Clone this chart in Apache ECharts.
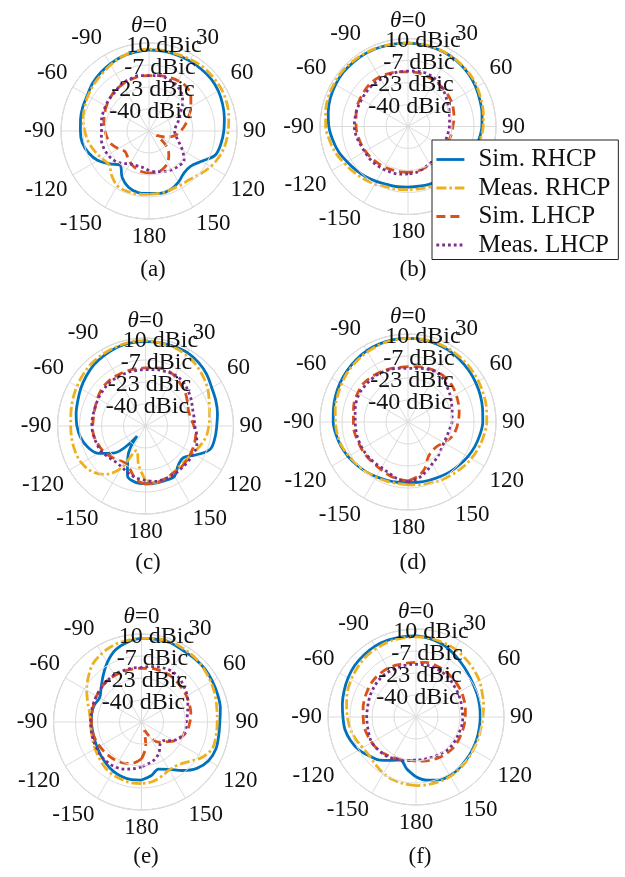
<!DOCTYPE html>
<html><head><meta charset="utf-8">
<script src="https://cdn.jsdelivr.net/npm/echarts@6/dist/echarts.min.js"></script>
<style>html,body{margin:0;padding:0;background:#fff}#c{width:625px;height:877px}</style>
</head><body><div id="c"></div>
<script>
// ---------- data ----------
const angles = [-180,-170,-160,-150,-140,-130,-120,-110,-100,
  -90,-80,-70,-60,-50,-40,-30,-20,-10,
  0,10,20,30,40,50,60,70,80,
  90,100,110,120,130,140,150,160,170,180];
const seriesNames = ['Sim. RHCP','Meas. RHCP','Sim. LHCP','Meas. LHCP'];
const panelLabels = ['(a)','(b)','(c)','(d)','(e)','(f)'];
const angleTickLabels = {0:'{it|θ}=0',30:'30',60:'60',90:'90',120:'120',150:'150',180:'180',210:'-150',240:'-120',270:'-90',300:'-60',330:'-90'};
const magMin = -170/3, magMax = 10.01, magStep = 50/3;

// (a)
const simRHCP_a = [-9.3,-9.3,-11.3,-16,-22.7,-18,-12,-8,-5.3, -4.7,-4,-3.3,-2.7,-0.7,0.7,2,3.3,4, 4.7,4.7,4.7,4.7,4.7,4.7,4,2.7,1.3, 0,-1.3,-3.3,-10.7,-15.3,-15.3,-12,-9.3,-8.7,-9.3];
const measRHCP_a = [-8.7,-8,-8,-8.7,-12.7,-17,-15.3,-12.7,-10, -8,-6,-4.7,-3.3,-2,-0.7,1.3,3.3,4.7, 5.3,5.3,5.3,6,6.7,6.7,6.7,6,4.7, 3.3,2,0,-2.7,-6,-8.7,-9.3,-9.3,-8.7,-8.7];
const simLHCP_a = [-24.7,-25.3,-26.7,-28.7,-31.3,-32.7,-30,-26.7,-24.7, -23.3,-22,-20.7,-19.3,-18,-16.7,-16,-15.3,-14.7, -14.7,-14,-13.3,-12.7,-12.7,-15.3,-20,-24.7,-28.7, -32.7,-36.7,-43.3,-50,-40,-33.3,-28.7,-26,-24.7,-24.7];
const measLHCP_a = [-26.7,-28.7,-28.7,-28,-24.7,-22,-20.7,-20,-20, -20.7,-20,-19.3,-18.7,-18,-17.3,-15.3,-14.7,-14, -14.7,-14,-14.7,-16,-18.7,-23.3,-29.3,-32.7,-36, -37.3,-36,-32.7,-27.3,-22,-22,-22.7,-24,-25.3,-26.7];
// (b)
const simRHCP_b = [-10.7,-10.3,-10,-8.7,-7,-5.3,-3.3,-0.7,1.3, 3.3,4.7,6,6.7,7.3,7.3,7.3,7,6.7, 6.5,6.3,6,5.7,5,4,2.7,1.3,0.3, -0.7,-2,-3.3,-5.3,-7,-8.3,-9.3,-10,-10.7,-10.7];
const measRHCP_b = [-8.7,-8.3,-8,-6.3,-4.7,-3,-1,1.7,3.7, 5.7,6.7,7.7,8,8.3,8,7.7,7.3,6.7, 6.5,6.7,6.3,6,5.3,4.7,3.7,2.3,1.3, 0.3,-1,-2.3,-4,-5.3,-6.7,-7.3,-8,-8.7,-8.7];
const simLHCP_b = [-22,-22,-21.7,-21.3,-20.7,-20,-19.3,-18.7,-18, -17.3,-16.7,-15.3,-14.7,-14,-13.3,-13.3,-14,-14.7, -15.3,-15.3,-16,-16.7,-17.3,-18,-18.7,-20,-21.3, -22.7,-23.3,-24,-24.7,-24.7,-24,-23.3,-22.7,-22.3,-22];
const measLHCP_b = [-20.7,-20,-19.7,-19.3,-19,-18.7,-18.7,-18,-16.7, -16,-16,-16,-16,-15.7,-15.3,-15.3,-15,-14.7, -14.7,-14.3,-14,-15.3,-17.3,-19.7,-22,-23.3,-24.7, -25.3,-26,-26.3,-26.7,-26,-25,-24,-22.7,-21.3,-20.7];
// (c)
const simRHCP_c = [-13,-13.3,-16.7,-30,-46.7,-24.7,-15.3,-10,-6.7, -4.7,-3.3,-2,0,2,4,5.3,6.7,7.3, 7.3,7.3,7.3,7.3,6,4,1.3,0,-1.3, -2.7,-3.3,-4.7,-12.7,-19.3,-18,-12.7,-12.7,-12.7,-13];
const measRHCP_c = [-15.3,-26.7,-36.7,-20,-8.7,-3.3,-0.7,0,0, 0,0.7,2,3.3,4.7,6,6.7,7.3,8, 8,7.3,6.7,5.3,3.3,0.7,-2,-5.3,-7.3, -8.7,-10,-12.7,-15.3,-16.7,-16.7,-15.3,-14,-13.3,-15.3];
const simLHCP_c = [-12.7,-15.3,-22,-24.7,-23.3,-21.3,-19.3,-18,-16.7, -16.7,-16.7,-16,-14.7,-13.3,-12.7,-12.7,-12.7,-12.7, -12.7,-12,-11.3,-12.7,-15.3,-17.3,-20,-22,-22, -20,-18,-17.3,-16.7,-16,-15.3,-15.3,-14,-12.7,-12.7];
const measLHCP_c = [-15.3,-16.7,-18.7,-20.7,-21.3,-20,-18,-17.3,-16.7, -16,-16,-16,-15.3,-14.7,-14,-14,-14,-14, -14,-13.3,-12.7,-12,-12.7,-14.7,-16.7,-18.7,-19.3, -19.3,-17.3,-15.3,-14.7,-14.7,-14.7,-14,-14,-14,-15.3];
// (d)
const simRHCP_d = [-10.7,-10.3,-9.7,-8.7,-7.3,-6,-4.3,-2.7,-1.3, 0,0.7,1.7,2.7,3.7,4.7,5.7,6.3,6.7, 6.7,6.7,6.3,5.7,4.7,3.7,2.7,1.7,0.7, 0,-1.3,-2.7,-4.3,-6,-7.3,-8.7,-9.7,-10.3,-10.7];
const measRHCP_d = [-9,-9.3,-9,-8.3,-7.3,-6.3,-5,-3.3,-2.3, -1.7,-0.7,0.3,1.3,2.7,3.7,4.7,5.7,6.3, 6.7,7,7,6.7,6.3,5.7,5,4.3,3.7, 3,1.7,0.3,-1.3,-3,-4.7,-6,-7.3,-8.3,-9];
const simLHCP_d = [-12,-12.7,-14,-15.3,-16,-16,-16,-16,-15.3, -15.3,-14.7,-13.3,-12.7,-12,-12.7,-13.3,-14,-14.7, -14.7,-14,-13.3,-12.7,-12.7,-13.3,-14.7,-16,-17.3, -18.7,-20,-22,-25.3,-28,-28,-26,-19.3,-14.7,-12];
const measLHCP_d = [-11.3,-12.7,-15.3,-16.7,-16.7,-16.7,-16.7,-16.7,-16.7, -16.7,-16,-14.7,-14,-14,-14,-14,-14.7,-15.3, -16,-15.3,-14,-13.3,-14.7,-17.3,-19.3,-21.3,-22.7, -23.3,-24.7,-25.3,-25.3,-24,-22,-20,-16.7,-13.3,-11.3];
// (e)
const simRHCP_e = [-12.7,-12.3,-12.7,-13.7,-15.3,-16.7,-18,-18.7,-19, -18.7,-18.3,-18.7,-20,-16.7,-11.3,-4.7,1.3,4.7, 6.7,7,7.3,6,6,6,5.3,4.7,4, 2.7,2.7,3.3,2,-2,-8.7,-15.3,-18.7,-15.3,-12.7];
const measRHCP_e = [-10,-10,-10.7,-11.3,-12.7,-14.7,-16,-17.3,-18, -18,-16.7,-13.3,-8.7,-4,0.7,3.3,5.3,6, 6.7,7.3,8,7.3,6.7,5.3,4,2.7,1.3, 0.7,0.7,0.7,-3.3,-10,-14,-14.7,-12.7,-10.7,-10];
const simLHCP_e = [-28.7,-25.3,-23.3,-22,-21.3,-20.7,-20,-19.3,-18.7, -18.7,-18.7,-18,-17.3,-16.7,-16,-16,-16,-16, -16,-15.3,-15.3,-15.3,-16,-16.7,-17.3,-18,-18.7, -20,-21.3,-24,-28,-33.3,-36.7,-43.3,-50,-38,-28.7];
const measLHCP_e = [-22.7,-20.7,-18.7,-17.3,-16.7,-16.7,-17.3,-17.7,-18, -18,-18,-17.7,-17.3,-16.7,-16,-15.3,-15.3,-15.3, -15.3,-14,-12.7,-12,-12.7,-14.7,-16.7,-19.3,-21.3, -22.7,-22.7,-24.7,-28.7,-34.7,-34.7,-30,-26.7,-24.7,-22.7];
// (f)
const simRHCP_f = [-11.3,-16.7,-22,-18.7,-14,-10.7,-6.7,-4,-2, -1.3,0,1.3,2.7,4,4.7,5.3,5.3,5, 4.7,3.7,2,-0.7,-3.3,-5.3,-6.7,-7.3,-7.7, -8,-8,-7.7,-7.3,-6.7,-6,-5.3,-6,-8,-11.3];
const measRHCP_f = [-4.7,-5.3,-6,-7.3,-9.3,-10.7,-10,-8,-6, -4.7,-3.3,-1.3,0,1.3,2.7,3.3,4,4, 4,4,3.3,2.7,1.3,0,-1.3,-3.3,-4.7, -6,-6.7,-6.7,-6.7,-6,-5.3,-4.7,-4.7,-4.7,-4.7];
const simLHCP_f = [-23.3,-23.3,-22.7,-21.3,-20,-18.7,-18,-17.3,-16.7, -16.7,-16,-15.3,-14.7,-14,-14,-14,-14.7,-15.3, -15.3,-14.7,-14.7,-15.3,-16,-16.7,-17.3,-18,-18.7, -19.3,-19.7,-20,-20,-20,-20.7,-21.3,-22,-22.7,-23.3];
const measLHCP_f = [-24,-23.3,-22,-20.7,-19.3,-18.7,-18,-18.7,-19.3, -19.3,-19.3,-18.7,-18,-17.3,-16.7,-16.7,-16.7,-16.7, -16.7,-16.7,-16.7,-17.3,-18,-19.3,-20,-20.7,-21.3, -21.3,-21.3,-22,-22,-22,-22.7,-23.3,-24,-24,-24];

const panelData = [
  [simRHCP_a, measRHCP_a, simLHCP_a, measLHCP_a],
  [simRHCP_b, measRHCP_b, simLHCP_b, measLHCP_b],
  [simRHCP_c, measRHCP_c, simLHCP_c, measLHCP_c],
  [simRHCP_d, measRHCP_d, simLHCP_d, measLHCP_d],
  [simRHCP_e, measRHCP_e, simLHCP_e, measLHCP_e],
  [simRHCP_f, measRHCP_f, simLHCP_f, measLHCP_f]
];

// ---------- layout & style ----------
const layout = [
  {cx:149, cy:131, lx:148, ly:253},
  {cx:408, cy:126.5, lx:408, ly:253},
  {cx:145.5, cy:426, lx:143, ly:546},
  {cx:408, cy:422, lx:408, ly:546},
  {cx:141.5, cy:722, lx:141, ly:840},
  {cx:416, cy:717, lx:415, ly:840}
];
const R = 88;
const FONT = "'Liberation Serif', 'Times New Roman', serif";
const TXT = '#111';
const GRID = '#dcdcdc';
const lineColors = ['#0072BD', '#EDB120', '#D95319', '#7E2F8E'];
const lineTypes = ['solid', [10,3,2.5,3], [9,5], [2.8,3]];
const ringShift = {'10':15, '-7':11, '-23':4, '-40':2};
const ringKey = {'10':'r10', '-7':'r7', '-23':'r23', '-40':'r40'};
const ringRich = {};
Object.keys(ringShift).forEach(k => {
  ringRich[ringKey[k]] = {fontFamily:FONT, fontSize:24, lineHeight:15, color:TXT, padding:[5,0,0,2*ringShift[k]]};
});

const polar = [], angleAxis = [], radiusAxis = [], series = [], title = [];
layout.forEach((L, i) => {
  polar.push({center:[L.cx, L.cy], radius:R});
  angleAxis.push({
    polarIndex:i, type:'value', min:0, max:360, interval:30, startAngle:90, clockwise:true,
    axisLine:{show:true, lineStyle:{color:GRID, width:1}},
    axisTick:{show:false},
    splitLine:{show:true, lineStyle:{color:GRID, width:1}},
    axisLabel:{margin:6, fontFamily:FONT, fontSize:23, color:TXT,
      formatter: v => (angleTickLabels[v] !== undefined ? angleTickLabels[v] : ''),
      rich:{it:{fontFamily:FONT, fontSize:23, color:TXT, fontStyle:'italic'}}}
  });
  radiusAxis.push({
    polarIndex:i, type:'value', min:magMin, max:magMax, interval:magStep, z:5,
    axisLine:{show:false}, axisTick:{show:false},
    splitLine:{show:true, lineStyle:{color:GRID, width:1}},
    axisLabel:{margin:0, align:'center', verticalAlign:'middle', hideOverlap:false,
      fontFamily:FONT, fontSize:24, lineHeight:15, color:TXT,
      formatter: v => { if (v < magMin + 1 || v > 10.005) return ''; const d = String(Math.round(v)); return ringKey[d] ? '{' + ringKey[d] + '|' + d + ' dBic}' : ''; },
      rich: ringRich}
  });
  panelData[i].forEach((vals, s) => {
    series.push({
      name: seriesNames[s], type:'line', coordinateSystem:'polar', polarIndex:i,
      symbol:'none', smooth:0.35, animation:false, z:2,
      color: lineColors[s],
      itemStyle:{color: lineColors[s]},
      lineStyle:{color: lineColors[s], width:2.8, type: lineTypes[s]},
      data: vals.map((v, k) => [v, (angles[k] + 360) % 360])
    });
  });
  title.push({text:panelLabels[i], left:L.lx, top:L.ly, textAlign:'center',
    textStyle:{fontFamily:FONT, fontSize:23, fontWeight:'normal', color:TXT}});
});

const chart = echarts.init(document.getElementById('c'), null, {renderer:'canvas'});
chart.setOption({
  backgroundColor:'#fff',
  animation:false,
  title: title,
  polar: polar, angleAxis: angleAxis, radiusAxis: radiusAxis,
  legend: {
    data: seriesNames, orient:'vertical', left:432, top:140,
    padding:[7,8,2,3], itemGap:3.5, itemWidth:28, itemHeight:14,
    backgroundColor:'#fff', borderColor:'#222', borderWidth:1, z:10,
    itemStyle:{opacity:0, borderWidth:0},
    lineStyle:{width:2.8},
    textStyle:{fontFamily:FONT, fontSize:25, color:TXT, padding:[0,0,0,9]}
  },
  series: series
});
</script></body></html>
